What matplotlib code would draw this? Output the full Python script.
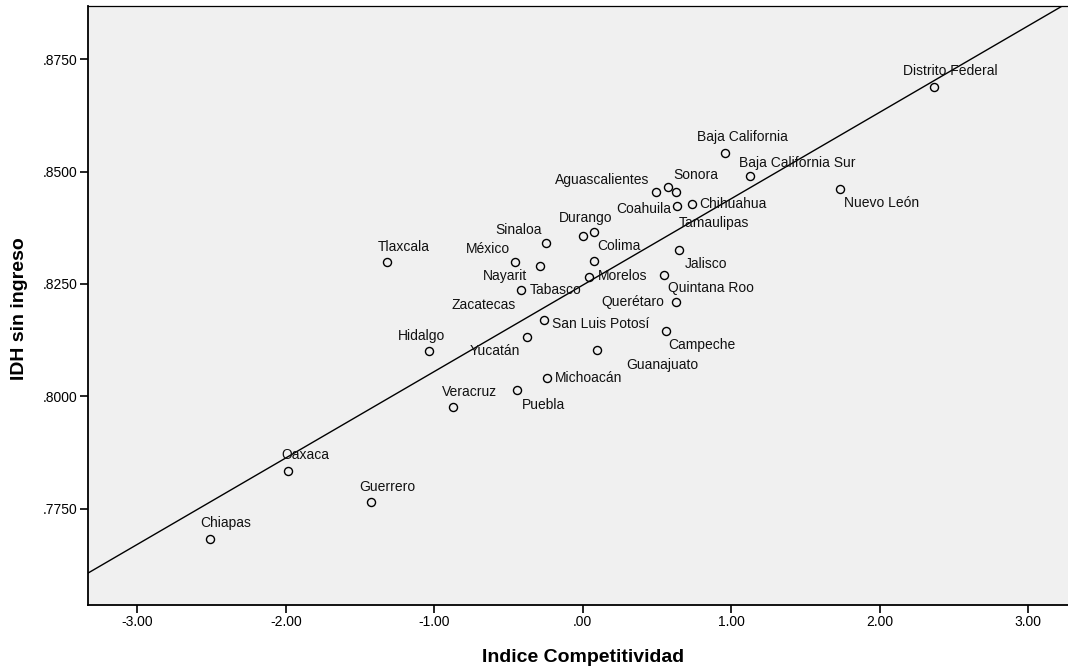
import numpy as np
import matplotlib
matplotlib.use("Agg")
import matplotlib.pyplot as plt

# Estados de México: Indice Competitividad vs IDH sin ingreso
states = [
    "Distrito Federal", "Baja California", "Baja California Sur", "Nuevo León",
    "Aguascalientes", "Sonora", "Tamaulipas", "Coahuila", "Chihuahua",
    "Durango", "Colima", "Jalisco", "Sinaloa", "México", "Tlaxcala",
    "Nayarit", "Morelos", "Tabasco", "Quintana Roo", "Querétaro",
    "Zacatecas", "San Luis Potosí", "Campeche", "Hidalgo", "Yucatán",
    "Guanajuato", "Michoacán", "Veracruz", "Puebla", "Oaxaca", "Guerrero",
    "Chiapas",
]
competitividad = [
    2.365, 0.958, 1.126, 1.734,
    0.490, 0.630, 0.576, 0.632, 0.739,
    0.005, 0.073, 0.650, -0.246, -0.455, -1.316,
    -0.291, 0.039, -0.416, 0.549, 0.630,
    0.073, -0.264, 0.562, -1.034, -0.378,
    0.096, -0.239, -0.872, -0.441, -1.985, -1.424,
    -2.513,
]
idh_sin_ingreso = [
    0.86877, 0.85414, 0.84895, 0.84613,
    0.84539, 0.84553, 0.84650, 0.84241, 0.84285,
    0.83566, 0.83655, 0.83261, 0.83404, 0.82994, 0.82990,
    0.82898, 0.82660, 0.82357, 0.82698, 0.82090,
    0.83010, 0.81703, 0.81451, 0.81006, 0.81311,
    0.81022, 0.80398, 0.79753, 0.80145, 0.78335, 0.77645,
    0.76828,
]
x_ticks = [-3, -2, -1, 0, 1, 2, 3]
x_ticklabels = ["-3.00", "-2.00", "-1.00", ".00", "1.00", "2.00", "3.00"]
y_ticks = [0.775, 0.800, 0.825, 0.850, 0.875]
y_ticklabels = [".7750", ".8000", ".8250", ".8500", ".8750"]

# label placement (pixel offsets of label centre from its point, y down)
label_offsets = {
    "Distrito Federal": (16, -16), "Baja California": (17, -16),
    "Baja California Sur": (47, -13), "Nuevo León": (41, 14),
    "Aguascalientes": (-53, -12), "Sonora": (20, -17),
    "Tamaulipas": (46, 36), "Coahuila": (-33, 3), "Chihuahua": (40, 0),
    "Durango": (2, -18), "Colima": (25, 14), "Jalisco": (27, 14),
    "Sinaloa": (-28, -13), "México": (-27, -13), "Tlaxcala": (16, -15),
    "Nayarit": (-35, 10), "Morelos": (34, -1), "Tabasco": (35, 0),
    "Quintana Roo": (47, 13), "Querétaro": (-43, 0),
    "Zacatecas": (-110, 44), "San Luis Potosí": (57, 4),
    "Campeche": (36, 14), "Hidalgo": (-8, -15), "Yucatán": (-32, 14),
    "Guanajuato": (65, 15), "Michoacán": (41, 0), "Veracruz": (16, -15),
    "Puebla": (26, 15), "Oaxaca": (17, -16), "Guerrero": (16, -15),
    "Chiapas": (16, -16),
}

plt.rcParams["font.family"] = ["Liberation Sans", "DejaVu Sans"]

fig = plt.figure(figsize=(10.68, 6.68), dpi=100)
ax = fig.add_axes([88 / 1068, 63 / 668, 980 / 1068, 599 / 668])
ax.set_facecolor("#f0f0f0")

xlim = (-3.332, 3.268)
ylim = (0.75352, 0.88687)
ax.set_xlim(*xlim)
ax.set_ylim(*ylim)

# linear fit line
slope, intercept = np.polyfit(competitividad, idh_sin_ingreso, 1)
xs = np.array(xlim)
ax.plot(xs, intercept + slope * xs, color="black", lw=1.0, zorder=2)

ax.plot(competitividad, idh_sin_ingreso, linestyle="none", marker="o",
        markersize=5.8, markerfacecolor="none", markeredgecolor="black",
        markeredgewidth=1.0, zorder=3)

for name, xv, yv in zip(states, competitividad, idh_sin_ingreso):
    dx, dy = label_offsets[name]
    ax.annotate(name, (xv, yv), xytext=(dx, -dy), textcoords="offset pixels",
                ha="center", va="center", fontsize=10, color="#111111",
                zorder=4)

ax.set_xticks(x_ticks)
ax.set_xticklabels(x_ticklabels)
ax.set_yticks(y_ticks)
ax.set_yticklabels(y_ticklabels)
ax.tick_params(axis="both", direction="out", length=6, width=1.2,
               labelsize=10, pad=1.5, colors="black")

for side in ["left", "bottom"]:
    ax.spines[side].set_linewidth(1.3)
ax.spines["top"].set_linewidth(0.9)
ax.spines["right"].set_visible(False)

fig.text(583 / 1068, 1 - 657 / 668, "Indice Competitividad", ha="center",
         va="center", fontsize=14, fontweight="bold")
fig.text(20 / 1068, 1 - 309 / 668, "IDH sin ingreso", ha="center",
         va="center", fontsize=14, fontweight="bold", rotation=90)

fig.savefig("out.png", dpi=100)
